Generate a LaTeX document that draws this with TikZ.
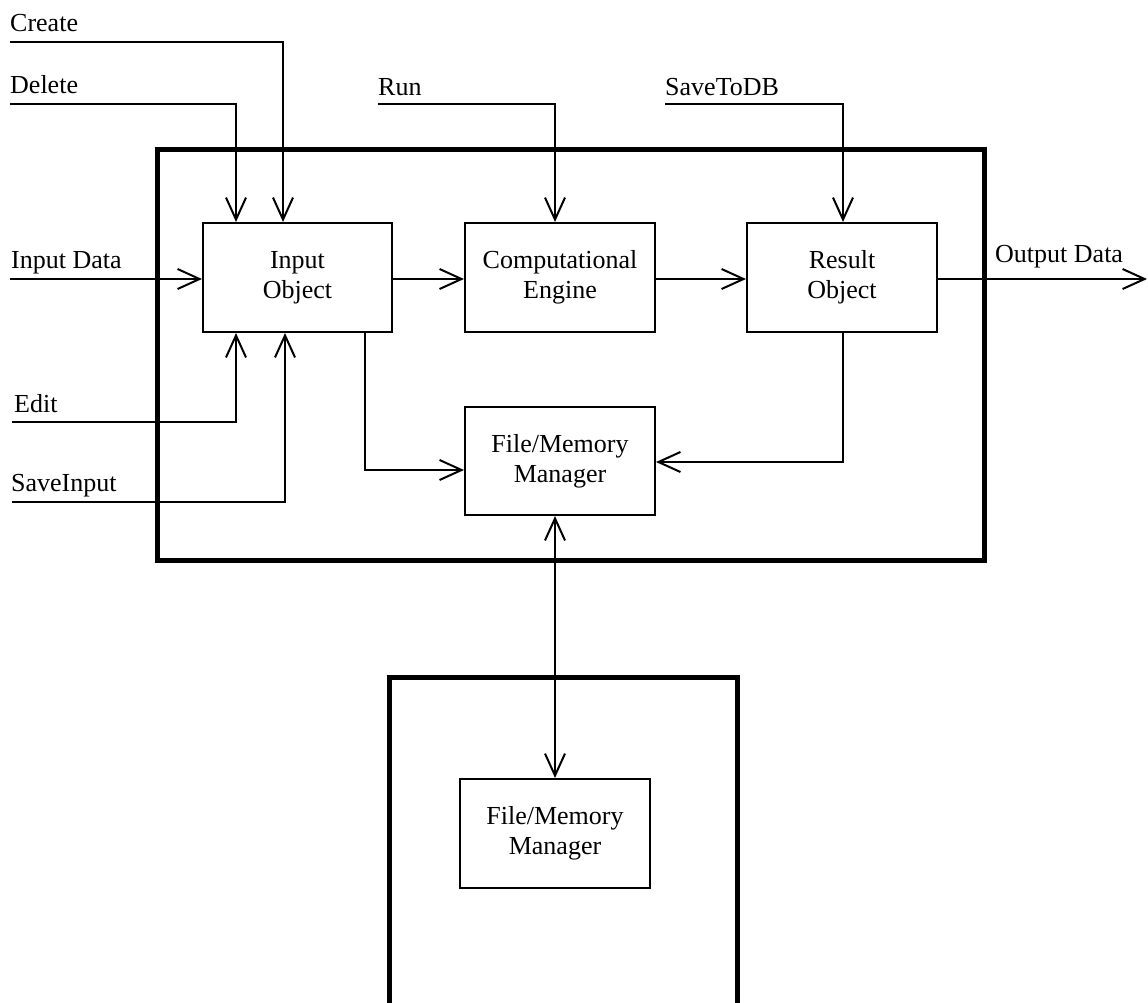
\documentclass[tikz,border=0pt]{standalone}
\usepackage{fontspec}
\setmainfont{Liberation Serif}
\usetikzlibrary{arrows.meta}
\begin{document}
\begin{tikzpicture}[x=1pt,y=-1pt,
  every node/.style={font=\fontsize{26}{30}\selectfont},
  blk/.style={draw,line width=2pt,align=center,inner sep=0pt},
  lbl/.style={anchor=base west,inner sep=0pt},
  wire/.style={line width=2pt},
  arr/.style={wire,-{Straight Barb[length=22pt,width=20pt,line width=2pt]}},
  darr/.style={wire,{Straight Barb[length=22pt,width=20pt,line width=2pt]}-{Straight Barb[length=22pt,width=20pt,line width=2pt]}},
  frame/.style={line width=5pt}]
\fill[white] (0,0) rectangle (1148,1002);
\useasboundingbox (0,0) rectangle (1148,1002);
% outer frames
\draw[frame] (157,149) rectangle (984,560);
\draw[frame] (389,1010) -- (389,677) -- (737,677) -- (737,1010);
% blocks
\node[blk,minimum width=189pt,minimum height=109pt] (inobj) at (297.5,277.5) {Input\\Object};
\node[blk,minimum width=190pt,minimum height=109pt] (comp) at (560,277.5) {Computational\\Engine};
\node[blk,minimum width=190pt,minimum height=109pt] (res) at (842,277.5) {Result\\Object};
\node[blk,minimum width=190pt,minimum height=108pt] (fmm) at (560,461) {File/Memory\\Manager};
\node[blk,minimum width=190pt,minimum height=109pt] (fmmb) at (555,833.5) {File/Memory\\Manager};
% labels
\node[lbl] (lcreate) at (10,31) {Create};
\node[lbl] (ldelete) at (10,93) {Delete};
\node[lbl] (linput) at (11,268) {Input Data};
\node[lbl] (ledit) at (14,412) {Edit};
\node[lbl] (lsave) at (11,491) {SaveInput};
\node[lbl] (lrun) at (378,95) {Run};
\node[lbl] (ldb) at (665,95) {SaveToDB};
\node[lbl] (lout) at (995,262) {Output Data};
% free ends and bends
\coordinate (cs) at (10,42);   \coordinate (cb) at (283,42);
\coordinate (ds) at (10,104);  \coordinate (db) at (236,104);
\coordinate (is) at (10,279);
\coordinate (es) at (12,422);  \coordinate (eb) at (236,422);
\coordinate (ss) at (12,502);  \coordinate (sb) at (285,502);
\coordinate (rs) at (378,104); \coordinate (rb) at (555,104);
\coordinate (ts) at (665,104); \coordinate (tb) at (843,104);
\coordinate (oe) at (1147,279);
\coordinate (ib) at (365,470);
\coordinate (rr) at (843,462);
% connectors
\draw[arr] (cs) -- (cb) -- (cb |- inobj.north);
\draw[arr] (ds) -- (db) -- (db |- inobj.north);
\draw[arr] (is) -- (is -| inobj.west);
\draw[arr] (es) -- (eb) -- (eb |- inobj.south);
\draw[arr] (ss) -- (sb) -- (sb |- inobj.south);
\draw[arr] (rs) -- (rb) -- (rb |- comp.north);
\draw[arr] (ts) -- (tb) -- (tb |- res.north);
\draw[arr] (inobj.east |- is) -- (comp.west |- is);
\draw[arr] (comp.east |- is) -- (res.west |- is);
\draw[arr] (res.east |- is) -- (oe);
\draw[arr] (ib |- inobj.south) -- (ib) -- (ib -| fmm.west);
\draw[arr] (rr |- res.south) -- (rr) -- (rr -| fmm.east);
\draw[darr] (fmm.south -| 555,0) -- (fmmb.north);
\end{tikzpicture}
\end{document}
